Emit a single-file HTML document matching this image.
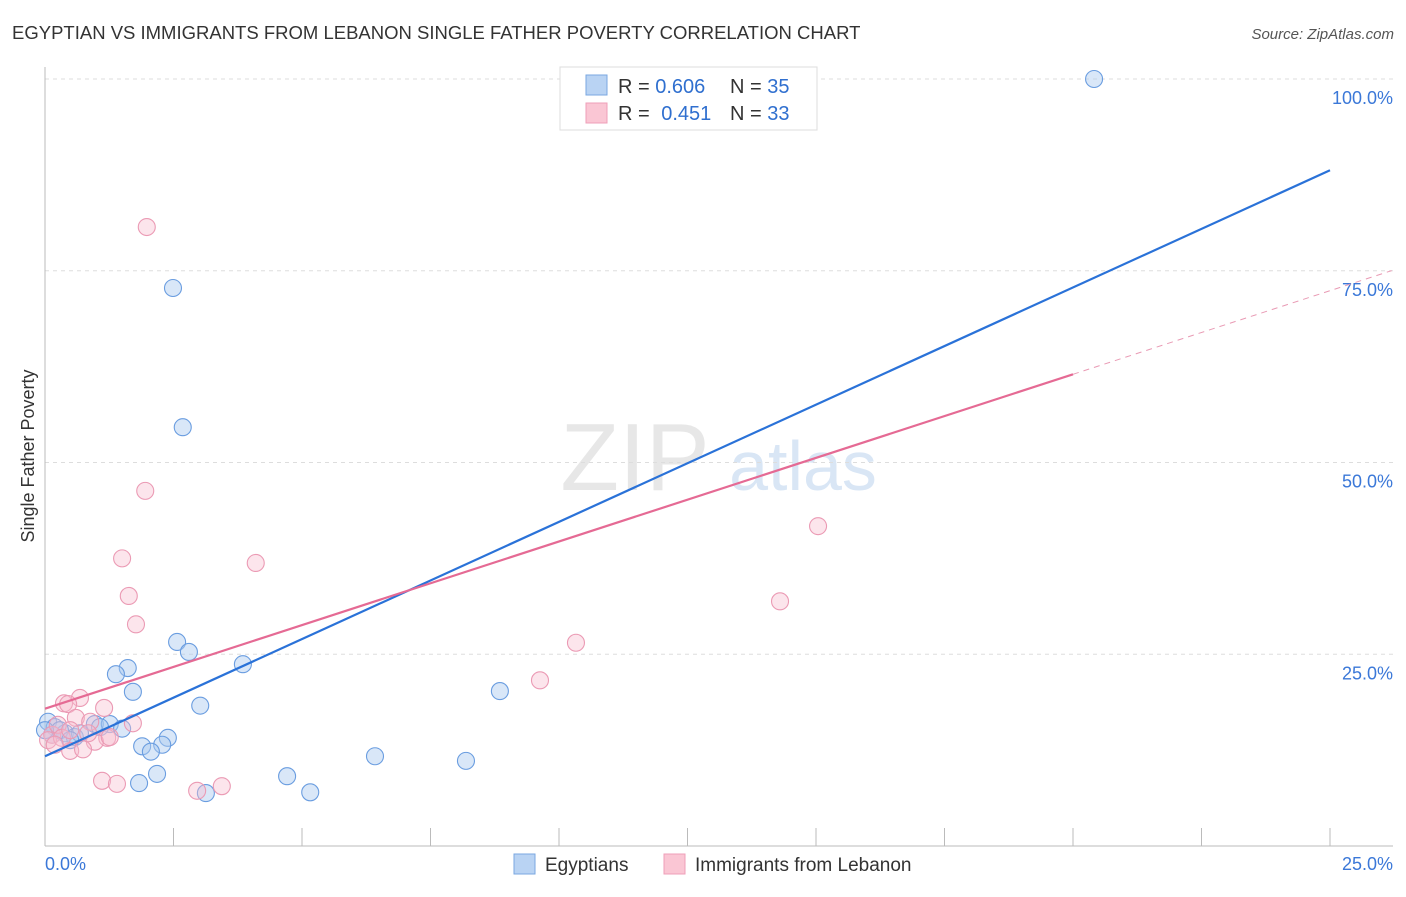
<!DOCTYPE html>
<html><head><meta charset="utf-8"><style>
body{margin:0;background:#fff;font-family:"Liberation Sans",sans-serif;}
svg text{font-family:"Liberation Sans",sans-serif;}
</style></head><body>
<svg id="c" width="1406" height="892">
<text x="12" y="39" font-size="18.5" fill="#333">EGYPTIAN VS IMMIGRANTS FROM LEBANON SINGLE FATHER POVERTY CORRELATION CHART</text>
<text x="1394" y="39" font-size="15" fill="#555" text-anchor="end" font-style="italic">Source: ZipAtlas.com</text>
<text x="34" y="456" font-size="18" fill="#333" text-anchor="middle" transform="rotate(-90 34 456)">Single Father Poverty</text>
<g><text x="635" y="490" font-size="96" fill="#ddd" text-anchor="middle" font-family="Liberation Serif" opacity="0.7">ZIP</text><text x="803" y="490" font-size="70" fill="#c9dcf2" text-anchor="middle" opacity="0.7">atlas</text></g>
<g id="grid"></g><g id="axes"></g><g id="pts"></g><g id="lines"></g>
<g>
<rect x="560" y="67" width="257" height="63" fill="#fff" stroke="#ddd"/>
<rect x="586" y="75" width="21" height="20" fill="#b9d3f3" stroke="#7aa7e0"/>
<rect x="586" y="103" width="21" height="20" fill="#fac6d4" stroke="#ef9fb8"/>
<text x="618" y="93" font-size="20" fill="#333">R = <tspan fill="#2f6fcf">0.606</tspan></text>
<text x="730" y="93" font-size="20" fill="#333">N = <tspan fill="#2f6fcf">35</tspan></text>
<text x="618" y="120" font-size="20" fill="#333">R = <tspan fill="#2f6fcf" dx="6">0.451</tspan></text>
<text x="730" y="120" font-size="20" fill="#333">N = <tspan fill="#2f6fcf">33</tspan></text>
</g>
<g>
<rect x="514" y="854" width="21" height="20" fill="#b9d3f3" stroke="#7aa7e0"/>
<text x="545" y="871" font-size="19" fill="#333">Egyptians</text>
<rect x="664" y="854" width="21" height="20" fill="#fac6d4" stroke="#ef9fb8"/>
<text x="695" y="871" font-size="19" fill="#333">Immigrants from Lebanon</text>
</g>
</svg>
<script>
const yTicks=[25,50,75,100];
const yTickLabels=["25.0%","50.0%","75.0%","100.0%"];
const xTickLabels=["0.0%","25.0%"];
const blueX=[20.41,2.49,2.68,2.57,2.80,1.61,1.38,1.71,3.85,3.02,8.85,0.06,0.19,0.39,0.58,0.97,1.26,1.50,2.39,1.89,2.28,2.06,6.42,8.19,2.18,1.83,3.13,4.71,5.16,0.14,0.29,0.68,1.07,0.0,0.49];
const blueY=[100,72.75,54.6,26.6,25.3,23.2,22.4,20.1,23.7,18.3,20.2,16.2,15.5,14.7,14.2,15.9,15.9,15.3,14.1,13.0,13.2,12.3,11.7,11.1,9.4,8.2,6.9,9.1,7.0,14.5,15.1,14.7,15.5,15.1,13.8];
const pinkX=[1.98,1.95,1.50,4.10,1.63,1.77,15.04,14.30,10.33,9.63,0.68,0.37,0.45,1.15,0.60,0.88,1.71,1.21,0.97,0.49,0.74,1.11,1.40,2.96,3.44,0.14,0.25,0.06,0.33,1.26,0.84,0.49,0.19];
const pinkY=[80.7,46.3,37.5,36.9,32.6,28.9,41.7,31.9,26.5,21.6,19.3,18.6,18.5,18.0,16.7,16.2,16.0,14.1,13.6,12.4,12.6,8.5,8.1,7.2,7.8,14.5,15.8,13.8,14.1,14.2,14.7,15.1,13.2];
const blueTrend=[11.7,88.1];
const pinkTrend=[17.9,2.18];
const X=v=>45+v*1285/25, Y=v=>846-v*7.67;
const NS="http://www.w3.org/2000/svg";
function mk(p,t,a){const e=document.createElementNS(NS,t);for(const k in a)e.setAttribute(k,a[k]);document.getElementById(p).appendChild(e);return e;}
yTicks.forEach((t,i)=>{
 const g=mk('grid','line',{x1:45,x2:1393,y1:Y(t),y2:Y(t),stroke:'#ddd','stroke-dasharray':'4,4'});
 
 
 const l=mk('grid','text',{x:1393,y:Y(t)+25,'font-size':18,fill:'#3b78d8','text-anchor':'end'});l.textContent=yTickLabels[i];
 
 
});
let a=mk('axes','line',{x1:45,x2:45,y1:67,y2:846,stroke:'#bbb'});


a=mk('axes','line',{x1:45,x2:1393,y1:846,y2:846,stroke:'#bbb'});


for(let i=0;i<=10;i++){const t=mk('axes','line',{x1:X(i*2.5),x2:X(i*2.5),y1:828,y2:846,stroke:'#bbb'});
 
 }
[[45,'start'],[1393,'end']].forEach((p,i)=>{const t=mk('axes','text',{x:p[0],y:870,'font-size':18,fill:'#3b78d8','text-anchor':p[1]});t.textContent=xTickLabels[i];
 
 });
blueX.forEach((v,i)=>{const c=mk('pts','circle',{cx:X(v),cy:Y(blueY[i]),r:8.5,fill:'rgba(170,202,240,0.45)',stroke:'#6a9de0','stroke-width':1.1});
 
 });
pinkX.forEach((v,i)=>{const c=mk('pts','circle',{cx:X(v),cy:Y(pinkY[i]),r:8.5,fill:'rgba(247,190,208,0.4)',stroke:'#eb9ab4','stroke-width':1.1});
 
 });
let L=mk('lines','line',{x1:X(0),y1:Y(blueTrend[0]),x2:X(25),y2:Y(blueTrend[1]),stroke:'#2a72d8','stroke-width':2.2});


const pf=x=>pinkTrend[0]+pinkTrend[1]*x;
L=mk('lines','line',{x1:X(0),y1:Y(pf(0)),x2:X(20),y2:Y(pf(20)),stroke:'#e56a94','stroke-width':2.2});


L=mk('lines','line',{x1:X(20),y1:Y(pf(20)),x2:X(26.2),y2:Y(pf(26.2)),stroke:'#e99ab4','stroke-width':1,'stroke-dasharray':'6,5'});


</script>
</body></html>
